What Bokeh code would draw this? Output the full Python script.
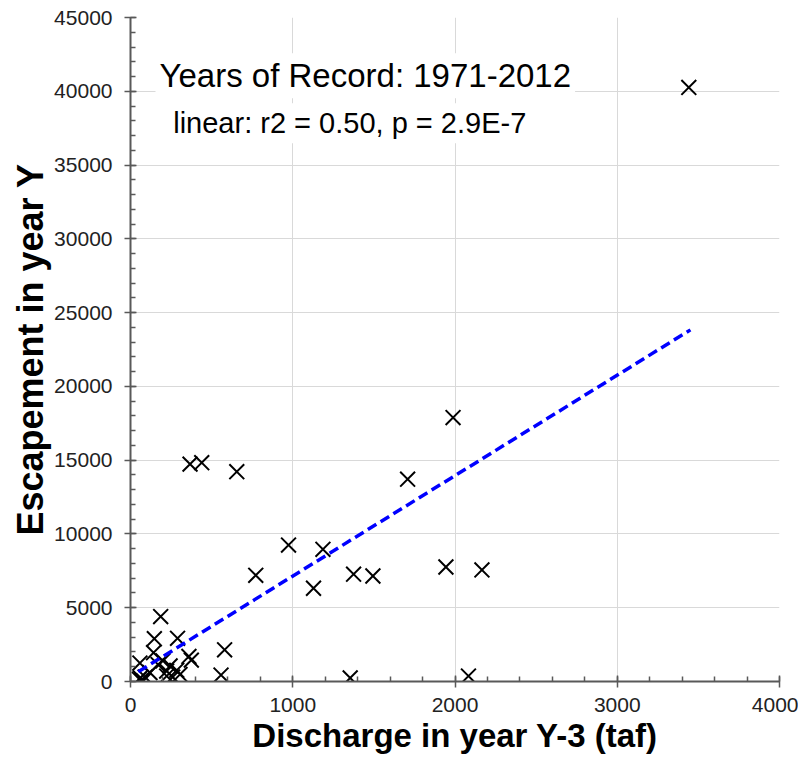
from bokeh.plotting import figure
from bokeh.models import Range1d, SingleIntervalTicker, Label, NumeralTickFormatter, ColumnDataSource
from bokeh.embed import file_html
from bokeh.resources import INLINE

# Discharge in year Y-3 (taf)
discharge = [3441, 1988, 1708, 367, 439, 655, 974, 1186, 772, 1128, 1375, 1494, 1944, 2166,
             2083, 1354, 558, 580, 186, 147, 290, 142, 360, 375, 58, 200, 244, 170,
             223, 285, 305, 223, 60, 70, 80, 55, 90, 120, 260]
# Escapement in year Y
escapement = [40260, 17890, 13710, 14730, 14830, 14220, 9250, 8960, 7200, 6320, 7270, 7150, 7760, 7560,
              370, 240, 440, 2150, 4400, 2900, 2930, 1950, 1700, 1450, 1250, 1400, 1050, 1150,
              710, 760, 480, 370, 250, 100, 50, 150, 300, 600, 300]
# linear trend line
trend_x = [48, 3451]
trend_y = [664, 23830]

x_ticks_interval = 1000
y_ticks_interval = 5000

title_text = "Years of Record: 1971-2012"
stats_text = "linear:  r2 = 0.50, p = 2.9E-7"
x_label = "Discharge in year Y-3 (taf)"
y_label = "Escapement in year Y"

FONT = "Liberation Sans"

p = figure(width=798, height=759, x_range=Range1d(0, 4000), y_range=Range1d(0, 45000),
           output_backend="svg", toolbar_location=None,
           min_border_left=130, min_border_right=19, min_border_top=17, min_border_bottom=78)
p.outline_line_color = None
p.background_fill_color = "white"
p.border_fill_color = "white"

xt = SingleIntervalTicker(interval=x_ticks_interval, num_minor_ticks=5)
yt = SingleIntervalTicker(interval=y_ticks_interval, num_minor_ticks=5)
p.xaxis.ticker = xt
p.yaxis.ticker = yt
p.xgrid.ticker = xt
p.ygrid.ticker = yt
p.xaxis.formatter = NumeralTickFormatter(format="0")
p.yaxis.formatter = NumeralTickFormatter(format="0")

for g in (p.xgrid, p.ygrid):
    g.grid_line_color = "#d9d9d9"
    g.grid_line_width = 1

for ax in (p.xaxis, p.yaxis):
    ax.axis_line_color = "#595959"
    ax.axis_line_width = 2
    ax.major_tick_line_color = "#595959"
    ax.major_tick_line_width = 1.5
    ax.minor_tick_line_color = "#595959"
    ax.minor_tick_line_width = 1.5
    ax.major_tick_in = 6
    ax.major_tick_out = 6
    ax.minor_tick_in = 5
    ax.minor_tick_out = 0
    ax.major_label_text_font = FONT
    ax.major_label_text_font_size = "21px"
    ax.major_label_text_color = "#222222"
    ax.axis_label_text_font = FONT
    ax.axis_label_text_font_style = "bold"
    ax.axis_label_text_color = "black"

p.xaxis.axis_label = x_label
p.yaxis.axis_label = y_label
p.xaxis.axis_label_text_font_size = "33px"
p.yaxis.axis_label_text_font_size = "36px"
p.xaxis.major_label_standoff = 10
p.yaxis.major_label_standoff = 12
p.xaxis.axis_label_standoff = 2
p.yaxis.axis_label_standoff = 0

src = ColumnDataSource(dict(x=discharge, y=escapement))
p.scatter("x", "y", source=src, marker="x", size=21, line_color="black", line_width=2)
p.line(trend_x, trend_y, line_color="#0000ff", line_width=3.5, line_dash="10 5")

p.add_layout(Label(x=1447, y=41050, text=title_text, text_align="center", text_baseline="alphabetic",
                   text_font=FONT, text_font_size="33px", text_color="black",
                   background_fill_color="white", padding=4))
p.add_layout(Label(x=1376, y=37830, text=stats_text, text_align="center", text_baseline="alphabetic",
                   text_font=FONT, text_font_size="29px", text_color="black",
                   background_fill_color="white", padding=4))

open("out.html", "w").write(file_html(p, INLINE))
